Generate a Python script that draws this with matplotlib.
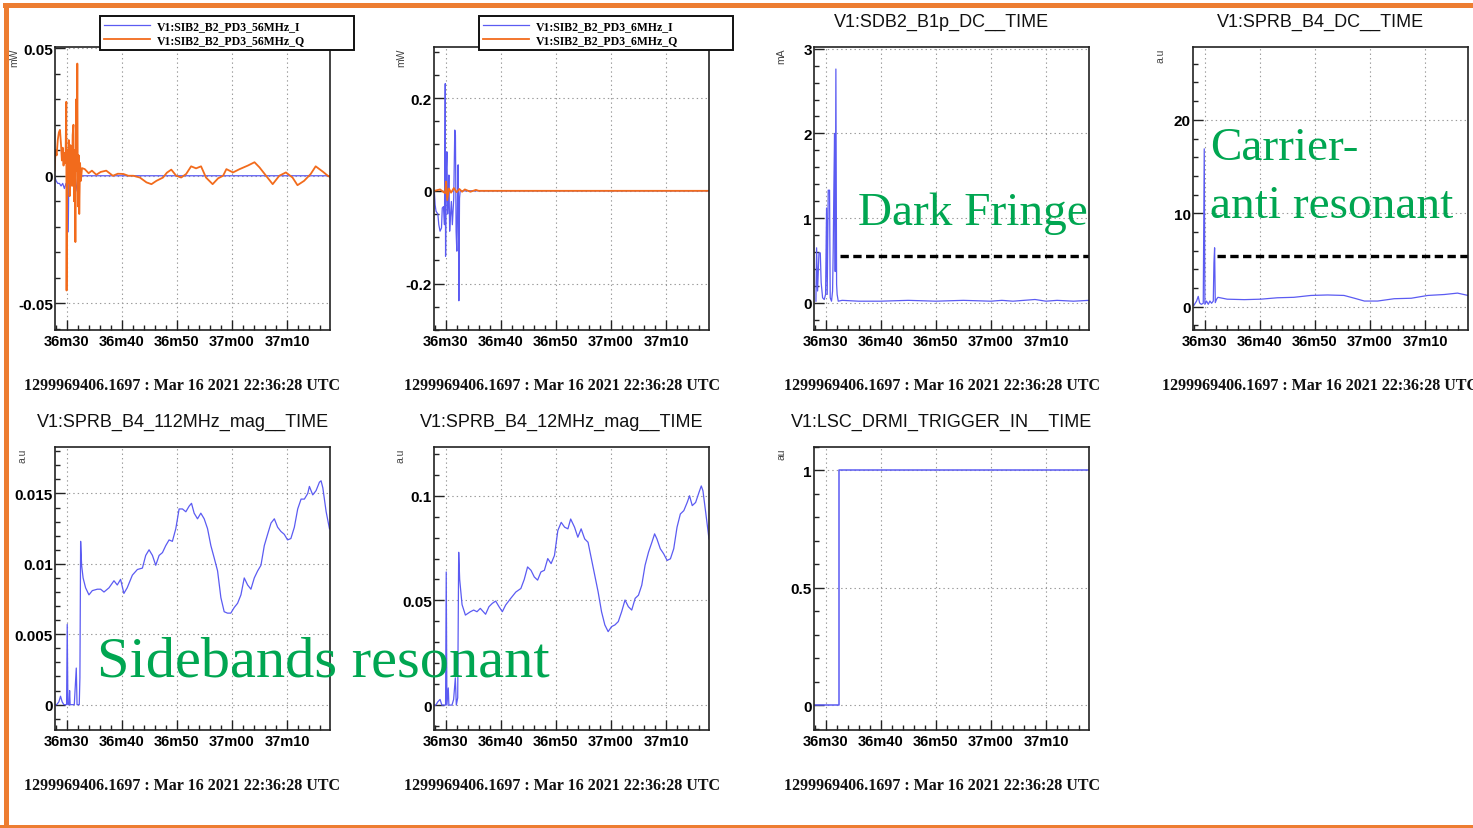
import matplotlib
matplotlib.use("Agg")
import matplotlib.pyplot as plt
from matplotlib.ticker import MultipleLocator, FixedLocator, FixedFormatter, FuncFormatter
from matplotlib.patches import Rectangle

W, H = 1473, 829

BLUE = "#5b5bf2"
ORANGE = "#f26b1c"
GREEN = "#00a651"
BORDER = "#ed7d31"

# seconds after 22:36:00 UTC
t_lo, t_hi = 27.9, 77.8
tick_secs = [30, 40, 50, 60, 70]
tick_names = ["36m30", "36m40", "36m50", "37m00", "37m10"]
stamp = "1299969406.1697 : Mar 16 2021 22:36:28 UTC"

# --- SIB2 PD3 56 MHz demod (mW)
i56_t = [27.83, 28.1, 28.4, 28.7, 29.0, 29.3, 29.6, 29.9, 30.1, 30.3, 30.4, 30.7,
         31.0, 31.3, 31.6, 31.9, 32.2, 32.6, 77.8]
i56_v = [0.0, -0.002, -0.003, -0.003, -0.004, -0.003, -0.005, -0.003, -0.004, -0.022,
         -0.003, 0.001, -0.002, -0.004, -0.001, -0.006, -0.001, 0.0, 0.0]
q56_t = [27.83, 28.0, 28.2, 28.4, 28.6, 28.8, 29.0, 29.15, 29.3, 29.45, 29.6, 29.8,
         29.95, 30.0, 30.1, 30.25, 30.4, 30.55, 30.7, 30.85, 31.0, 31.1, 31.25, 31.35,
         31.5, 31.6, 31.75, 31.85, 31.95, 32.05, 32.2, 32.3, 32.45, 32.6, 32.8, 33.3,
         34.0, 34.6, 35.4, 36.2, 37.2, 38.4, 39.3, 40.3, 41.2, 42.1, 43.3, 44.5, 45.4,
         46.3, 47.5, 48.2, 49.0, 49.9, 50.8, 51.7, 52.6, 53.5, 54.4, 55.3, 56.5, 57.5,
         58.4, 59.0, 60.2, 61.4, 62.9, 64.1, 65.0, 66.2, 67.4, 68.6, 69.8, 71.0, 71.9,
         73.1, 74.3, 75.2, 76.5, 77.4, 77.8]
q56_v = [0.002, 0.010, 0.008, 0.014, 0.017, 0.018, 0.012, 0.006, 0.011, 0.004, 0.009,
         0.005, 0.029, -0.045, 0.010, -0.003, 0.014, -0.008, 0.012, 0.006, -0.004, 0.016,
         0.020, -0.010, 0.010, -0.026, 0.030, 0.002, 0.044, -0.012, 0.008, -0.015, 0.005,
         -0.002, 0.003, 0.0026, 0.001, 0.002, 0.0004, 0.0015, 0.002, 0.0, 0.0008, 0.0007,
         0.0, 0.0, -0.0007, -0.0026, -0.0033, -0.002, -0.0007, 0.0012, 0.0024, 0.0,
         -0.0007, 0.0007, 0.0037, 0.0029, 0.0037, -0.0007, -0.0033, -0.001, 0.0, 0.0026,
         0.0013, 0.0026, 0.004, 0.0053, 0.0033, 0.0, -0.0033, 0.0, 0.0013, -0.0007,
         -0.0037, -0.002, 0.0007, 0.0037, 0.0016, 0.0, -0.0005]

# --- SIB2 PD3 6 MHz demod (mW)
i6_t = [27.96, 28.1, 28.27, 28.6, 28.77, 29.0, 29.26, 29.4, 29.63, 29.8, 29.94, 30.0,
        30.12, 30.25, 30.37, 30.5, 30.6, 30.74, 30.86, 31.05, 31.23, 31.48, 31.67, 31.79,
        31.91, 32.04, 32.16, 32.28, 32.41, 32.53, 32.65, 77.8]
i6_v = [0.0, -0.03, -0.044, -0.05, -0.073, -0.087, -0.08, -0.037, -0.034, -0.073, 0.231,
        -0.141, 0.041, 0.084, -0.05, -0.016, 0.034, -0.087, -0.059, -0.023, -0.073, -0.016,
        0.131, 0.12, -0.087, -0.13, -0.023, 0.056, -0.237, -0.016, 0.0, 0.0]
q6_t = [27.96, 29.0, 29.9, 30.1, 30.3, 30.6, 31.0, 31.5, 32.0, 32.5, 33.0, 33.5, 34.5,
        35.5, 36.0, 77.8]
q6_v = [0.0, 0.003, -0.005, 0.02, -0.02, 0.005, -0.004, 0.006, -0.003, 0.004, -0.002,
        0.003, -0.002, 0.002, 0.0, 0.0]

# --- SDB2 B1p DC (mA)
dc_t = [28.25, 28.37, 28.55, 28.8, 29.04, 29.2, 29.46, 29.76, 30.0, 30.18, 30.3, 30.48,
        30.72, 30.84, 31.08, 31.27, 31.39, 31.5, 31.63, 31.75, 31.87, 32.0, 32.1, 32.3,
        33.0, 36.0, 40.0, 45.0, 50.0, 55.0, 60.0, 62.0, 64.0, 68.0, 70.0, 72.0, 75.0, 77.8]
dc_v = [0.02, 0.65, 0.14, 0.59, 0.59, 0.24, 0.06, 0.04, 0.1, 1.12, 0.1, 1.33, 1.33,
        0.06, 0.02, 0.14, 0.65, 1.33, 2.0, 0.37, 2.76, 0.22, 0.1, 0.02, 0.03, 0.02, 0.02,
        0.03, 0.02, 0.03, 0.02, 0.03, 0.02, 0.04, 0.02, 0.03, 0.02, 0.03]
dc_level = 0.55
dc_level_from = 32.7

# --- SPRB B4 DC (a.u)
sprb_t = [28.06, 28.55, 28.85, 29.1, 29.4, 29.76, 29.94, 30.06, 30.36, 30.67, 30.97,
          31.27, 31.58, 31.7, 31.82, 31.94, 32.18, 32.42, 34.1, 37.2, 40.2, 43.2, 46.2,
          49.3, 52.3, 55.3, 57.2, 59.0, 61.4, 64.4, 67.5, 70.5, 73.5, 75.9, 77.8]
sprb_v = [0.14, 0.6, 1.1, 0.4, 0.25, 0.36, 16.9, 0.25, 0.6, 0.25, 0.6, 0.36, 0.6, 4.7,
          6.3, 0.43, 0.8, 1.0, 0.8, 0.75, 0.8, 0.95, 1.0, 1.2, 1.25, 1.2, 0.9, 0.6, 0.6,
          0.85, 0.9, 1.2, 1.3, 1.45, 1.2]
sprb_level = 5.44
sprb_level_from = 32.3

# --- SPRB B4 112 MHz magnitude (a.u)
mag112_t = [28.0, 28.2, 28.6, 28.9, 29.2, 29.5, 30.0, 30.12, 30.24, 30.45, 30.55, 30.65,
            31.4, 31.76, 31.9, 32.3, 32.42, 32.55, 32.73, 33.0, 33.45, 34.06, 34.67,
            35.58, 36.18, 36.79, 37.7, 38.6, 39.2, 39.8, 40.4, 41.0, 41.94, 42.85, 43.76,
            44.36, 44.97, 45.58, 46.18, 46.79, 47.4, 48.0, 48.6, 49.2, 49.82, 50.42,
            51.03, 51.64, 52.24, 52.67, 53.15, 53.76, 54.36, 54.97, 55.58, 56.18, 56.8,
            57.4, 58.0, 58.6, 59.2, 59.8, 60.42, 61.03, 61.64, 62.24, 62.85, 63.45, 64.06,
            64.67, 65.27, 65.88, 66.48, 67.1, 67.7, 68.3, 68.9, 69.5, 70.1, 70.7, 71.33,
            71.94, 72.55, 73.15, 73.76, 74.06, 74.67, 75.27, 75.88, 76.18, 76.5, 77.1, 77.7]
mag112_v = [0.0, 0.0, 0.0002, 0.0006, 0.0002, 0.0, 0.0, 0.0057, 0.0, 0.0, 0.001, 0.0,
            0.0, 0.0026, 0.0, 0.0, 0.0019, 0.0116, 0.0099, 0.009, 0.0083, 0.0078, 0.0081,
            0.0082, 0.0082, 0.008, 0.0083, 0.0088, 0.0085, 0.0089, 0.0079, 0.0083, 0.0092,
            0.0096, 0.0097, 0.0106, 0.011, 0.0106, 0.0099, 0.0106, 0.0108, 0.0113, 0.0117,
            0.0116, 0.0125, 0.0139, 0.0139, 0.0137, 0.0141, 0.0143, 0.0136, 0.0132, 0.0136,
            0.0132, 0.0125, 0.0113, 0.0104, 0.0095, 0.0076, 0.0066, 0.0065, 0.0065, 0.0069,
            0.0072, 0.0078, 0.009, 0.0085, 0.0082, 0.009, 0.0095, 0.0099, 0.0113, 0.0121,
            0.0129, 0.0132, 0.0126, 0.0123, 0.0121, 0.0117, 0.0118, 0.0126, 0.0139, 0.0146,
            0.0146, 0.015, 0.0155, 0.0149, 0.0152, 0.0158, 0.0159, 0.0154, 0.0137, 0.0125]

# --- SPRB B4 12 MHz magnitude (a.u)
mag12_t = [27.99, 28.23, 28.6, 29.0, 29.33, 30.0, 30.12, 30.24, 30.49, 30.6, 31.16, 31.46,
           31.77, 31.95, 32.2, 32.38, 32.56, 32.99, 33.6, 34.5, 35.1, 35.7, 36.3, 37.26,
           37.87, 38.48, 39.09, 39.7, 40.3, 40.9, 41.83, 42.74, 43.66, 44.27, 44.88, 45.5,
           46.1, 46.7, 47.3, 47.93, 48.54, 49.15, 49.76, 50.37, 50.98, 51.6, 52.2, 52.7,
           53.4, 54.0, 54.6, 55.24, 55.85, 56.46, 57.07, 57.68, 58.3, 58.9, 59.5, 60.12,
           60.73, 61.34, 61.95, 62.56, 63.17, 63.78, 64.4, 65.0, 65.6, 66.2, 66.83, 67.44,
           67.93, 68.35, 68.96, 69.57, 70.2, 70.8, 71.4, 72.0, 72.6, 73.23, 73.84, 74.27,
           74.76, 75.37, 75.98, 76.4, 76.7, 77.2, 77.8]
mag12_v = [0.0, 0.0, 0.0016, 0.0027, 0.0, 0.0, 0.0636, 0.0, 0.0082, 0.0, 0.0, 0.0027,
           0.013, 0.0, 0.0035, 0.073, 0.060, 0.048, 0.043, 0.0446, 0.0454, 0.0446, 0.0462,
           0.0434, 0.047, 0.0486, 0.0497, 0.047, 0.0446, 0.0478, 0.051, 0.054, 0.0557,
           0.060, 0.066, 0.0644, 0.0612, 0.0597, 0.0636, 0.0644, 0.070, 0.0676, 0.0715,
           0.0834, 0.0873, 0.085, 0.0842, 0.0889, 0.085, 0.0802, 0.0842, 0.0794, 0.0778,
           0.0699, 0.062, 0.0541, 0.0446, 0.0383, 0.0351, 0.0375, 0.0383, 0.0399, 0.0446,
           0.0502, 0.047, 0.0454, 0.051, 0.0525, 0.0573, 0.0668, 0.0731, 0.0778, 0.0818,
           0.0794, 0.0747, 0.0723, 0.0691, 0.0699, 0.0747, 0.085, 0.0913, 0.0929, 0.0968,
           0.1, 0.0953, 0.0968, 0.1016, 0.1047, 0.1024, 0.0921, 0.0794]

# --- LSC DRMI trigger (au)
trig_t = [27.9, 32.42, 77.8]
trig_v = [0, 1, 1]

plt.rcParams["lines.scale_dashes"] = False
fig = plt.figure(figsize=(W / 100, H / 100), dpi=100)
fig.patch.set_facecolor("white")

cols = [55, 434, 814, 1193]
rows = [48, 448]
AW, AH = 275, 283


def make_axes(col, row):
    left, top = cols[col], rows[row]
    return fig.add_axes([left / W, 1 - (top + AH) / H, AW / W, AH / H])


def dress(ax, ylim, ymaj, ymin, ylab, title=None, ylab_dx=-33):
    ax.set_xlim(t_lo, t_hi)
    ax.set_ylim(*ylim)
    ax.xaxis.set_major_locator(FixedLocator(tick_secs))
    ax.xaxis.set_major_formatter(FixedFormatter(tick_names))
    ax.xaxis.set_minor_locator(MultipleLocator(2))
    ax.yaxis.set_major_locator(MultipleLocator(ymaj))
    ax.yaxis.set_minor_locator(MultipleLocator(ymin))
    ax.yaxis.set_major_formatter(FuncFormatter(lambda v, p: "%g" % round(v, 6)))
    ax.tick_params(which="both", direction="in", top=False, right=False, color="#222")
    ax.tick_params(which="major", length=7, width=1)
    ax.tick_params(which="minor", length=3.5, width=1)
    ax.tick_params(axis="x", pad=3)
    ax.tick_params(axis="y", pad=1.5)
    for lab in ax.get_xticklabels():
        lab.set_fontfamily("Liberation Sans")
        lab.set_fontweight("bold")
        lab.set_fontsize(10.5)
    for lab in ax.get_yticklabels():
        lab.set_fontfamily("Liberation Sans")
        lab.set_fontweight("bold")
        lab.set_fontsize(11)
    for s in ax.spines.values():
        s.set_linewidth(1.2)
        s.set_color("#222")
    ax.grid(True, which="major", color="#9a9a9a", linestyle=(0, (1, 2.2)), linewidth=0.8)
    ax.set_axisbelow(True)
    ax.text(ylab_dx / AW, 1 - 1 / AH, ylab, transform=ax.transAxes, rotation=90,
            ha="center", va="top", fontsize=7.5, color="#444", family="Liberation Sans")
    bb = ax.get_position()
    cx = (bb.x0 + bb.x1) / 2 - 10 / W
    if title:
        fig.text(cx, bb.y1 + 26 / H, title, ha="center", va="center",
                 fontsize=13, family="Liberation Sans", color="#111")
    fig.text(cx, bb.y0 - 55 / H, stamp, ha="center", va="center", fontsize=11.5,
             family="Liberation Serif", fontweight="bold", color="#111")


def add_legend(ax, x0, x1):
    leg = ax.legend(loc="center", mode="expand", ncol=1,
                    bbox_to_anchor=(x0 / W, 1 - 51 / H, (x1 - x0) / W, 34 / H),
                    bbox_transform=fig.transFigure, borderaxespad=0, fancybox=False,
                    edgecolor="#111", framealpha=1, handlelength=3.9, handletextpad=0.6,
                    borderpad=0.35, labelspacing=0.12,
                    prop={"family": "Liberation Serif", "weight": "bold", "size": 8.5})
    leg.get_frame().set_linewidth(1.4)


ax1 = make_axes(0, 0)
ax1.plot(i56_t, i56_v, color=BLUE, lw=0.9, label="V1:SIB2_B2_PD3_56MHz_I")
ax1.plot(q56_t, q56_v, color=ORANGE, lw=1.3, label="V1:SIB2_B2_PD3_56MHz_Q")
dress(ax1, (-0.0605, 0.0505), 0.05, 0.01, "mW", ylab_dx=-41)
add_legend(ax1, 100, 354)

ax2 = make_axes(1, 0)
ax2.plot(i6_t, i6_v, color=BLUE, lw=0.9, label="V1:SIB2_B2_PD3_6MHz_I")
ax2.plot(q6_t, q6_v, color=ORANGE, lw=1.3, label="V1:SIB2_B2_PD3_6MHz_Q")
dress(ax2, (-0.30, 0.31), 0.2, 0.05, "mW")
add_legend(ax2, 479, 733)

ax3 = make_axes(2, 0)
ax3.plot(dc_t, dc_v, color=BLUE, lw=0.9)
ax3.hlines(dc_level, dc_level_from, t_hi, colors="black", lw=2.4, linestyles=(0, (6, 3.2)))
dress(ax3, (-0.32, 3.02), 1, 0.2, "mA", "V1:SDB2_B1p_DC__TIME")

ax4 = make_axes(3, 0)
ax4.plot(sprb_t, sprb_v, color=BLUE, lw=0.9)
ax4.hlines(sprb_level, sprb_level_from, t_hi, colors="black", lw=2.4, linestyles=(0, (6, 3.2)))
dress(ax4, (-2.5, 27.8), 10, 2, "a.u", "V1:SPRB_B4_DC__TIME")

ax5 = make_axes(0, 1)
ax5.plot(mag112_t, mag112_v, color=BLUE, lw=0.9)
dress(ax5, (-0.0018, 0.0183), 0.005, 0.001, "a.u", "V1:SPRB_B4_112MHz_mag__TIME")

ax6 = make_axes(1, 1)
ax6.plot(mag12_t, mag12_v, color=BLUE, lw=0.9)
dress(ax6, (-0.0119, 0.1233), 0.05, 0.01, "a.u", "V1:SPRB_B4_12MHz_mag__TIME")

ax7 = make_axes(2, 1)
ax7.plot(trig_t, trig_v, color=BLUE, lw=1.1, drawstyle="steps-post")
dress(ax7, (-0.105, 1.1), 0.5, 0.1, "au", "V1:LSC_DRMI_TRIGGER_IN__TIME")

# slide annotations
note = dict(family="Liberation Serif", color=GREEN, ha="left", va="baseline")
fig.text(858 / W, 1 - 225 / H, "Dark Fringe", fontsize=34, **note)
fig.text(1210 / W, 1 - 160 / H, "Carrier-", fontsize=34, **note)
fig.text(1210 / W, 1 - 218 / H, "anti resonant", fontsize=34, **note)
fig.text(97 / W, 1 - 677 / H, "Sidebands resonant", fontsize=42, **note)

# orange slide frame
for x, y, w, h in [(3, 4, W - 3, 5), (4, 4, 5, H - 4), (0, 826, W, 3)]:
    fig.add_artist(Rectangle((x / W, 1 - (y + h) / H), w / W, h / H,
                             transform=fig.transFigure, color=BORDER, lw=0, zorder=10))

fig.savefig("out.png", dpi=100)
